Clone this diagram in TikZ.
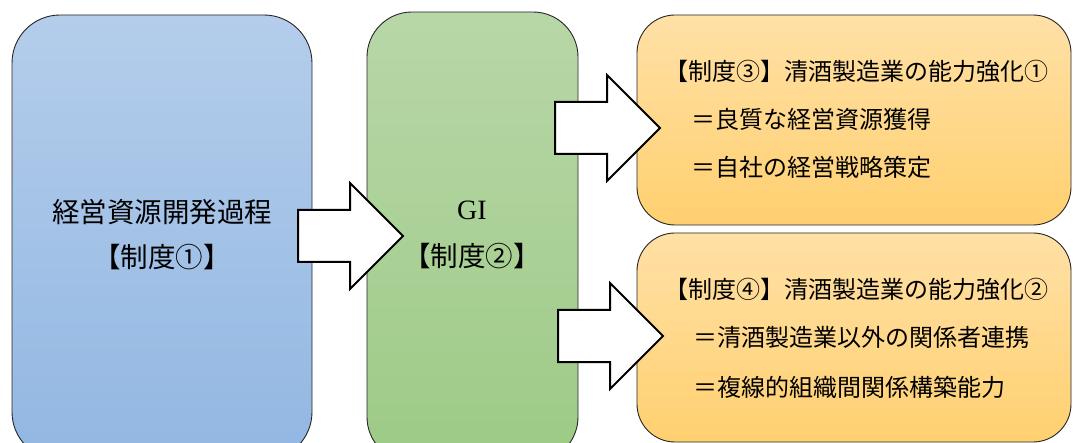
\documentclass[tikz,border=0pt]{standalone}
\usepackage{fontspec}
\setmainfont{Liberation Serif}
\newfontfamily\jp{Noto Sans CJK JP}
\usetikzlibrary{shapes.arrows}
\definecolor{bluetop}{RGB}{180,205,235}
\definecolor{bluebot}{RGB}{146,183,226}
\definecolor{greentop}{RGB}{184,215,168}
\definecolor{greenbot}{RGB}{157,202,134}
\definecolor{orangetop}{RGB}{255,224,166}
\definecolor{orangebot}{RGB}{255,208,112}
\begin{document}
\begin{tikzpicture}[x=1pt,y=-1pt,
  box/.style={rectangle, draw=black!85, line width=0.9pt, inner sep=0pt, outer sep=0pt},
  bigarrow/.style={single arrow, draw=black, fill=white, line width=2pt,
    minimum height=105pt, inner xsep=0pt, inner ysep=25pt, outer sep=0pt,
    single arrow head extend=27pt, anchor=tail},
  bigtxt/.style={inner sep=0pt, anchor=base, font=\jp\fontsize{27.5pt}{27.5pt}\selectfont},
  smalltxt/.style={inner sep=0pt, anchor=base west, font=\jp\fontsize{24pt}{24pt}\selectfont}]
\useasboundingbox (0,0) rectangle (1073,443);
\clip (0,0) rectangle (1073,443);
% boxes
\node[box, top color=bluetop, bottom color=bluebot, rounded corners=48pt,
  minimum width=300pt, minimum height=445pt] (b1) at (162,237.5) {};
\node[box, top color=greentop, bottom color=greenbot, rounded corners=45pt,
  minimum width=211pt, minimum height=450pt] (b2) at (472.5,237) {};
\node[box, top color=orangetop, bottom color=orangebot, rounded corners=38pt,
  minimum width=434pt, minimum height=210pt] (b3) at (854,120) {};
\node[box, top color=orangetop, bottom color=orangebot, rounded corners=38pt,
  minimum width=434pt, minimum height=209pt] (b4) at (854,337.5) {};
% arrows
\node[bigarrow] (a1) at (298,236) {};
\node[bigarrow] (a2) at (555,128) {};
\node[bigarrow] (a3) at (558,336) {};
% texts
\node[bigtxt] (t1) at (162,223) {経営資源開発過程};
\node[bigtxt] (t2) at (162,268) {【制度①】};
\node[inner sep=0pt, anchor=base, font=\fontsize{28pt}{28pt}\selectfont] (t3) at (472,219.5) {GI};
\node[bigtxt] (t4) at (472,267) {【制度②】};
\node[smalltxt] (t5) at (664,81) {【制度③】清酒製造業の能力強化①};
\node[smalltxt] (t6) at (691,129) {＝良質な経営資源獲得};
\node[smalltxt] (t7) at (691,177) {＝自社の経営戦略策定};
\node[smalltxt] (t8) at (664,299) {【制度④】清酒製造業の能力強化②};
\node[smalltxt] (t9) at (693,347) {＝清酒製造業以外の関係者連携};
\node[smalltxt] (t10) at (693,396) {＝複線的組織間関係構築能力};
\end{tikzpicture}
\end{document}
